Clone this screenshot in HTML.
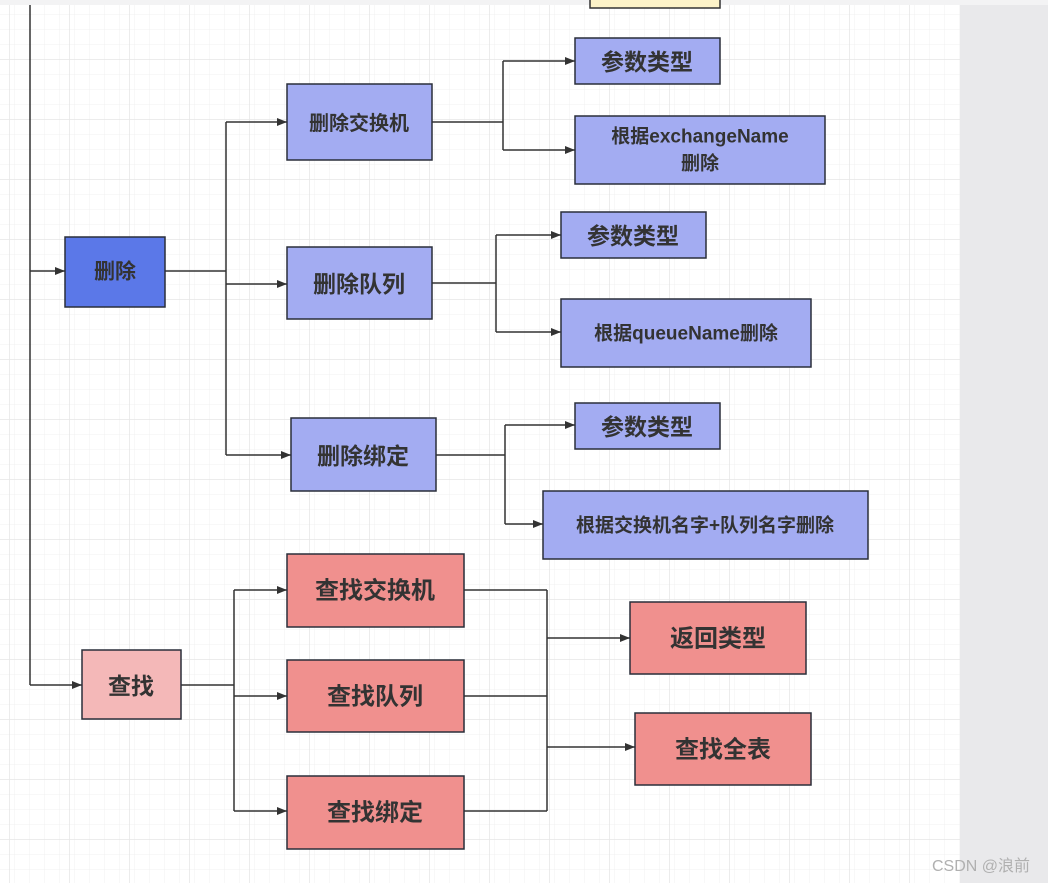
<!DOCTYPE html>
<html><head><meta charset="utf-8"><style>
html,body{margin:0;padding:0;background:#fff;}
svg text{font-family:"Liberation Sans","Noto Sans CJK SC",sans-serif;font-weight:bold;fill:#333;}
</style></head><body>
<svg width="1048" height="883" xmlns="http://www.w3.org/2000/svg">
<defs>
<pattern id="g1" width="15" height="15" patternUnits="userSpaceOnUse" x="0" y="0"><path d="M15 0V15M0 15H15" stroke="#f1f1f1" stroke-width="1" fill="none"/></pattern>
<pattern id="g2" width="60" height="60" patternUnits="userSpaceOnUse" x="-50" y="0"><path d="M60 0V60M0 60H60" stroke="#e6e6e6" stroke-width="1.5" fill="none"/></pattern>
<marker id="a" markerWidth="10" markerHeight="8" refX="10" refY="4" orient="auto" markerUnits="userSpaceOnUse"><path d="M0 0L10 4L0 8z" fill="#333"/></marker>
</defs>
<rect width="960" height="883" fill="url(#g1)"/>
<rect width="960" height="883" fill="url(#g2)"/>
<rect x="960" y="0" width="88" height="883" fill="#e9e9eb"/>
<rect x="0" y="0" width="1048" height="5" fill="#f3f3f4"/>
<rect x="590" y="-2" width="130" height="10" fill="#fdf3c8" stroke="#333" stroke-width="1.5"/>
<g stroke="#333" stroke-width="1.5" fill="none">
<path d="M30 5V685"/>
<path d="M30 271H65" marker-end="url(#a)"/>
<path d="M30 685H82" marker-end="url(#a)"/>
<path d="M165 271H226M226 122V455"/>
<path d="M226 122H287" marker-end="url(#a)"/>
<path d="M226 284H287" marker-end="url(#a)"/>
<path d="M226 455H291" marker-end="url(#a)"/>
<path d="M432 122H503M503 61V150"/>
<path d="M503 61H575" marker-end="url(#a)"/>
<path d="M503 150H575" marker-end="url(#a)"/>
<path d="M432 283H496M496 235V332"/>
<path d="M496 235H561" marker-end="url(#a)"/>
<path d="M496 332H561" marker-end="url(#a)"/>
<path d="M436 455H505M505 425V524"/>
<path d="M505 425H575" marker-end="url(#a)"/>
<path d="M505 524H543" marker-end="url(#a)"/>
<path d="M181 685H234M234 590V811"/>
<path d="M234 590H287" marker-end="url(#a)"/>
<path d="M234 696H287" marker-end="url(#a)"/>
<path d="M234 811H287" marker-end="url(#a)"/>
<path d="M464 590H547M464 696H547M464 811H547M547 590V811"/>
<path d="M547 638H630" marker-end="url(#a)"/>
<path d="M547 747H635" marker-end="url(#a)"/>
</g>
<g stroke="#2a2f3a" stroke-width="1.5">
<rect x="65" y="237" width="100" height="70" fill="#5b78e8"/>
<rect x="287" y="84" width="145" height="76" fill="#a3acf2"/>
<rect x="287" y="247" width="145" height="72" fill="#a3acf2"/>
<rect x="291" y="418" width="145" height="73" fill="#a3acf2"/>
<rect x="575" y="38" width="145" height="46" fill="#a3acf2"/>
<rect x="575" y="116" width="250" height="68" fill="#a3acf2"/>
<rect x="561" y="212" width="145" height="46" fill="#a3acf2"/>
<rect x="561" y="299" width="250" height="68" fill="#a3acf2"/>
<rect x="575" y="403" width="145" height="46" fill="#a3acf2"/>
<rect x="543" y="491" width="325" height="68" fill="#a3acf2"/>
<rect x="82" y="650" width="99" height="69" fill="#f4b8b8"/>
<rect x="287" y="554" width="177" height="73" fill="#f0908e"/>
<rect x="287" y="660" width="177" height="72" fill="#f0908e"/>
<rect x="287" y="776" width="177" height="73" fill="#f0908e"/>
<rect x="630" y="602" width="176" height="72" fill="#f0908e"/>
<rect x="635" y="713" width="176" height="72" fill="#f0908e"/>
</g>
<g text-anchor="middle" dominant-baseline="central">
<text x="115" y="272" font-size="21">删除</text>
<text x="359" y="124" font-size="20">删除交换机</text>
<text x="359" y="284" font-size="23">删除队列</text>
<text x="363" y="456" font-size="23">删除绑定</text>
<text x="647" y="62" font-size="23">参数类型</text>
<text x="700" y="137" font-size="19">根据exchangeName</text>
<text x="700" y="164" font-size="19">删除</text>
<text x="633" y="236" font-size="23">参数类型</text>
<text x="686" y="334" font-size="19">根据queueName删除</text>
<text x="647" y="427" font-size="23">参数类型</text>
<text x="705" y="526" font-size="19">根据交换机名字+队列名字删除</text>
<text x="131" y="686" font-size="23">查找</text>
<text x="375" y="591" font-size="24">查找交换机</text>
<text x="375" y="697" font-size="24">查找队列</text>
<text x="375" y="813" font-size="24">查找绑定</text>
<text x="718" y="639" font-size="24">返回类型</text>
<text x="723" y="750" font-size="24">查找全表</text>
</g>
<text x="932" y="871" font-size="16" style="font-weight:normal;fill:#b0b0b0">CSDN @浪前</text>
</svg>
</body></html>
